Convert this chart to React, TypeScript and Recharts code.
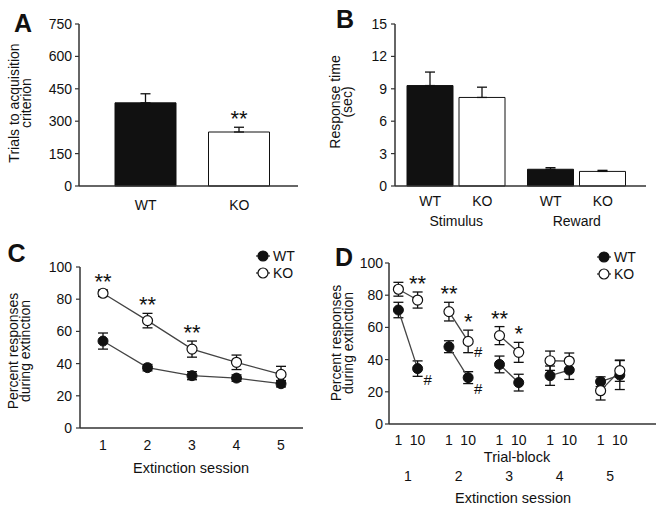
import React from "react";
import { Bar, BarChart, Cell, ErrorBar, LabelList, Line, LineChart, XAxis, YAxis } from "recharts";

const FONT = "'Liberation Sans', Arial, Helvetica, sans-serif";
const INK = "#111";
const AXIS = "#333";

// A: trials to acquisition criterion
const genotypes = ["WT", "KO"];
const trialsMean = [385, 250];
const trialsSem = [42, 22];
const trialsSig = ["", "**"];

// B: response time (sec)
const phases = ["Stimulus", "Reward"];
const rtWT = [9.3, 1.55];
const rtWTSem = [1.25, 0.15];
const rtKO = [8.2, 1.35];
const rtKOSem = [0.95, 0.1];

// C: percent responses per extinction session
const sessions = [1, 2, 3, 4, 5];
const extWT = [54, 37.5, 32.5, 31, 27.5];
const extWTSem = [5, 2, 2.5, 2, 2];
const extKO = [83.7, 66.7, 49, 40.8, 33.3];
const extKOSem = [2, 4.5, 5, 4.5, 5];
const extSig = ["**", "**", "**", "", ""];

// D: first / last trial-block of each session
const trialBlocks = ["1", "10"];
const blockWT = [[70.8, 34.4], [48, 28.8], [37, 25.7], [30, 33.5], [26.3, 30.4]];
const blockWTSem = [[4.8, 4.8], [3.7, 3.7], [5.2, 5.2], [6, 5.8], [3, 9]];
const blockKO = [[83.7, 77], [69.8, 51.3], [54.9, 44.5], [39.3, 39.1], [20.7, 33.1]];
const blockKOSem = [[4.3, 5], [5.8, 7], [5.6, 6.2], [6, 5], [5.8, 6.6]];
const blockSig = [["", "**"], ["**", "*"], ["**", "*"], ["", ""], ["", ""]];
const blockHashWT = [["", "#"], ["", "#"], ["", ""], ["", ""], ["", ""]];
const blockHashKO = [["", ""], ["", "#"], ["", ""], ["", ""], ["", ""]];

const BLOCK_SHIFT = [-0.19, 0.19];
const A_PX = 162 / 750;
const B_BAR = 46;
const B_GAP = 6;
const LINE_PX = 161 / 100;

const tickStyle = { fontSize: 14, fill: INK, fontFamily: FONT };
const axisLine = { stroke: AXIS, strokeWidth: 1.5 };
const tickLine = { stroke: AXIS, strokeWidth: 1.2 };

const pos = (p: any) => {
  const vb = p.viewBox || {};
  const x = typeof p.x === "number" ? p.x : vb.x;
  const y = typeof p.y === "number" ? p.y : vb.y;
  const w = typeof p.width === "number" ? p.width : vb.width || 0;
  return { x, y, w };
};

// stars sit above the top of the error bar
const starLabel = (rows: any[], pxPerUnit: number) => (p: any) => {
  const r = rows[p.index];
  if (!r || !r.sig) return null;
  const { x, y, w } = pos(p);
  const top = y - r.up * pxPerUnit;
  return (
    <text x={x + w / 2} y={top - 1} textAnchor="middle" fontSize={22} fill={INK} fontFamily={FONT}>
      {r.sig}
    </text>
  );
};

const hashLabel = (rows: any[]) => (p: any) => {
  const r = rows[p.index];
  if (!r || !r.hash) return null;
  const { x, y } = pos(p);
  return (
    <text x={x + 10} y={y + 16} textAnchor="middle" fontSize={15} fill={INK} fontFamily={FONT}>
      {r.hash}
    </text>
  );
};

function Txt({ cx, cy, size = 14, bold = false, children }: any) {
  return (
    <div
      style={{
        position: "absolute",
        left: cx,
        top: cy,
        transform: "translate(-50%, -50%)",
        fontSize: size,
        fontWeight: bold ? 700 : 400,
        whiteSpace: "nowrap",
        lineHeight: 1.15,
      }}
    >
      {children}
    </div>
  );
}

function VTitle({ cx, cy, lines }: any) {
  return (
    <div
      style={{
        position: "absolute",
        left: cx,
        top: cy,
        transform: "translate(-50%, -50%) rotate(-90deg)",
        fontSize: 14,
        lineHeight: "11.5px",
        textAlign: "center",
        whiteSpace: "nowrap",
      }}
    >
      {lines.map((l: string) => (
        <div key={l}>{l}</div>
      ))}
    </div>
  );
}

const keyItems = [
  { name: "WT", fill: INK },
  { name: "KO", fill: "#fff" },
];

function Key({ left, top }: any) {
  return (
    <svg style={{ position: "absolute", left, top, overflow: "visible" }} width={50} height={34}>
      {keyItems.map((k, i) => (
        <g key={k.name} transform={`translate(0, ${i * 17})`}>
          <line x1={0} x2={14} y1={6} y2={6} stroke={AXIS} strokeWidth={1.3} />
          <circle cx={7} cy={6} r={5} fill={k.fill} stroke={INK} strokeWidth={1.2} />
          <text x={17} y={11} fontSize={14} fill={INK} fontFamily={FONT}>
            {k.name}
          </text>
        </g>
      ))}
    </svg>
  );
}

function PanelA() {
  const data = genotypes.map((g, i) => ({
    name: g,
    value: trialsMean[i],
    err: [0, trialsSem[i]],
    up: trialsSem[i],
    sig: trialsSig[i],
  }));
  return (
    <div style={{ position: "absolute", left: 0, top: 0 }}>
      <BarChart width={330} height={230} data={data} margin={{ top: 24, right: 32, left: 0, bottom: 14 }} style={{ fontFamily: FONT }}>
        <XAxis dataKey="name" axisLine={axisLine} tickLine={false} tickSize={6} tickMargin={8} tick={tickStyle} padding={{ left: 20, right: 12 }} height={30} />
        <YAxis domain={[0, 750]} ticks={[0, 150, 300, 450, 600, 750]} width={79} axisLine={axisLine} tickLine={tickLine} tickSize={4} tickMargin={3} tick={tickStyle} />
        <Bar dataKey="value" barSize={61} stroke={INK} strokeWidth={1} isAnimationActive={false}>
          {data.map((d) => (
            <Cell key={d.name} fill={d.name === "WT" ? INK : "#fff"} />
          ))}
          <ErrorBar dataKey="err" width={5} stroke={INK} strokeWidth={1.3} direction="y" isAnimationActive={false} />
          <LabelList dataKey="sig" content={starLabel(data, A_PX)} />
        </Bar>
      </BarChart>
    </div>
  );
}

const PhaseTick = (p: any) => {
  const { x, y, payload } = p;
  const half = (B_BAR + B_GAP) / 2;
  return (
    <g fontFamily={FONT} fontSize={14} fill={INK}>
      {genotypes.map((g, i) => (
        <text key={g} x={x + (i === 0 ? -half : half)} y={y + 19.5} textAnchor="middle">
          {g}
        </text>
      ))}
      <text x={x} y={y + 40} textAnchor="middle">
        {payload.value}
      </text>
    </g>
  );
};

function PanelB() {
  const data = phases.map((ph, i) => ({
    name: ph,
    wt: rtWT[i],
    wtErr: [0, rtWTSem[i]],
    ko: rtKO[i],
    koErr: [0, rtKOSem[i]],
  }));
  return (
    <div style={{ position: "absolute", left: 330, top: 0 }}>
      <BarChart width={334} height={230} data={data} barSize={B_BAR} barGap={B_GAP} margin={{ top: 24, right: 18, left: 0, bottom: 14 }} style={{ fontFamily: FONT }}>
        <XAxis dataKey="name" axisLine={axisLine} tickLine={false} tickSize={0} tickMargin={0} tick={<PhaseTick />} padding={{ left: 1, right: 9 }} height={30} />
        <YAxis domain={[0, 15]} ticks={[0, 3, 6, 9, 12, 15]} width={65} axisLine={axisLine} tickLine={tickLine} tickSize={4} tickMargin={4} tick={tickStyle} />
        <Bar dataKey="wt" fill={INK} stroke={INK} strokeWidth={1} isAnimationActive={false}>
          <ErrorBar dataKey="wtErr" width={5} stroke={INK} strokeWidth={1.3} direction="y" isAnimationActive={false} />
        </Bar>
        <Bar dataKey="ko" fill="#fff" stroke={INK} strokeWidth={1} isAnimationActive={false}>
          <ErrorBar dataKey="koErr" width={5} stroke={INK} strokeWidth={1.3} direction="y" isAnimationActive={false} />
        </Bar>
      </BarChart>
    </div>
  );
}

const wtDot = { r: 5, fill: INK, stroke: INK, strokeWidth: 1 };
const koDot = { r: 5, fill: "#fff", stroke: INK, strokeWidth: 1.2 };

function PanelC() {
  const data = sessions.map((s, i) => ({
    session: s,
    wt: extWT[i],
    wtErr: extWTSem[i],
    ko: extKO[i],
    koErr: extKOSem[i],
    up: extKOSem[i],
    sig: extSig[i],
  }));
  return (
    <div style={{ position: "absolute", left: 0, top: 230 }}>
      <LineChart width={330} height={280} data={data} margin={{ top: 37, right: 27, left: 0, bottom: 52 }} style={{ fontFamily: FONT }}>
        <XAxis dataKey="session" type="number" domain={[0.483, 5.494]} allowDataOverflow ticks={sessions} axisLine={axisLine} tickLine={false} tickSize={4} tickMargin={8} tick={tickStyle} height={30} />
        <YAxis domain={[0, 100]} ticks={[0, 20, 40, 60, 80, 100]} width={80} axisLine={axisLine} tickLine={tickLine} tickSize={4} tickMargin={4} tick={tickStyle} />
        <Line dataKey="wt" stroke="#444" strokeWidth={1.3} dot={wtDot} activeDot={false} isAnimationActive={false}>
          <ErrorBar dataKey="wtErr" width={5} stroke={INK} strokeWidth={1.3} direction="y" isAnimationActive={false} />
        </Line>
        <Line dataKey="ko" stroke="#444" strokeWidth={1.3} dot={koDot} activeDot={false} isAnimationActive={false}>
          <ErrorBar dataKey="koErr" width={5} stroke={INK} strokeWidth={1.3} direction="y" isAnimationActive={false} />
          <LabelList dataKey="sig" content={starLabel(data, LINE_PX)} />
        </Line>
      </LineChart>
    </div>
  );
}

const blockRows = (vals: number[][], sems: number[][], hashes: string[][], sigs?: string[][]) =>
  sessions.map((s, i) =>
    trialBlocks.map((b, j) => ({
      x: s + BLOCK_SHIFT[j],
      v: vals[i][j],
      e: sems[i][j],
      up: sems[i][j],
      hash: hashes[i][j],
      sig: sigs ? sigs[i][j] : "",
    }))
  );

function PanelD() {
  const wtRows = blockRows(blockWT, blockWTSem, blockHashWT);
  const koRows = blockRows(blockKO, blockKOSem, blockHashKO, blockSig);
  const blockTicks = sessions.flatMap((s) => BLOCK_SHIFT.map((d) => s + d));
  const domain = [0.624, 5.906];
  return (
    <div style={{ position: "absolute", left: 330, top: 230 }}>
      <LineChart width={334} height={280} margin={{ top: 33, right: 8, left: 0, bottom: 26 }} style={{ fontFamily: FONT }}>
        <XAxis dataKey="x" type="number" domain={domain} allowDataOverflow ticks={blockTicks} tickFormatter={(_v: number, i: number) => trialBlocks[i % 2]} axisLine={axisLine} tickLine={false} tickSize={4} tickMargin={7} tick={tickStyle} height={30} />
        <XAxis xAxisId="session" dataKey="x" type="number" domain={domain} allowDataOverflow ticks={sessions} axisLine={false} tickLine={false} tickSize={0} tickMargin={17} tick={tickStyle} height={30} />
        <YAxis domain={[0, 100]} ticks={[0, 20, 40, 60, 80, 100]} width={59} axisLine={axisLine} tickLine={tickLine} tickSize={4} tickMargin={2} tick={tickStyle} />
        {wtRows.map((rows, i) => (
          <Line key={`wt${i}`} data={rows} dataKey="v" stroke="#444" strokeWidth={1.3} dot={wtDot} activeDot={false} isAnimationActive={false}>
            <ErrorBar dataKey="e" width={5} stroke={INK} strokeWidth={1.3} direction="y" isAnimationActive={false} />
            <LabelList dataKey="hash" content={hashLabel(rows)} />
          </Line>
        ))}
        {koRows.map((rows, i) => (
          <Line key={`ko${i}`} data={rows} dataKey="v" stroke="#444" strokeWidth={1.3} dot={koDot} activeDot={false} isAnimationActive={false}>
            <ErrorBar dataKey="e" width={5} stroke={INK} strokeWidth={1.3} direction="y" isAnimationActive={false} />
            <LabelList dataKey="sig" content={starLabel(rows, LINE_PX)} />
            <LabelList dataKey="hash" content={hashLabel(rows)} />
          </Line>
        ))}
      </LineChart>
    </div>
  );
}

export default function App() {
  return (
    <div
      style={{
        position: "absolute",
        left: 0,
        top: 0,
        width: 664,
        height: 510,
        background: "#fff",
        fontFamily: FONT,
        color: INK,
        overflow: "hidden",
      }}
    >
      <PanelA />
      <PanelB />
      <PanelC />
      <PanelD />

      <Txt cx={23} cy={23} size={25} bold>A</Txt>
      <Txt cx={345} cy={19} size={25} bold>B</Txt>
      <Txt cx={16.5} cy={253} size={25} bold>C</Txt>
      <Txt cx={344} cy={256.5} size={25} bold>D</Txt>

      <VTitle cx={19.5} cy={103} lines={["Trials to acquisition", "criterion"]} />
      <VTitle cx={341} cy={102} lines={["Response time", "(sec)"]} />
      <VTitle cx={19} cy={351} lines={["Percent responses", "during extinction"]} />
      <VTitle cx={342} cy={343} lines={["Percent responses", "during extinction"]} />

      <Txt cx={191} cy={468} size={14.5}>Extinction session</Txt>
      <Txt cx={517} cy={457} size={14.5}>Trial-block</Txt>
      <Txt cx={513} cy={498} size={14.5}>Extinction session</Txt>

      <Key left={256} top={250} />
      <Key left={597} top={251} />
    </div>
  );
}
